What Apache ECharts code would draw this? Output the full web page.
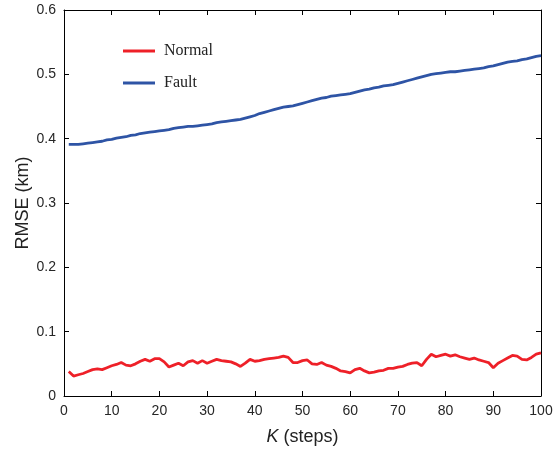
<!DOCTYPE html>
<html>
<head>
<meta charset="utf-8">
<script src="https://cdn.jsdelivr.net/npm/echarts@6/dist/echarts.min.js"></script>
<style>html,body{margin:0;padding:0;background:#fff}#c{width:553px;height:449px}</style>
</head>
<body>
<div id="c"></div>
<script>
const steps = Array.from({length: 100}, (_, i) => i + 1);
const normal = [0.038,0.031,0.033,0.035,0.038,0.041,0.042,0.041,0.044,0.047,
0.049,0.052,0.048,0.047,0.050,0.054,0.057,0.054,0.058,0.058,
0.053,0.045,0.048,0.051,0.047,0.053,0.055,0.051,0.055,0.051,
0.054,0.057,0.055,0.054,0.053,0.050,0.046,0.051,0.057,0.054,
0.055,0.057,0.058,0.059,0.060,0.062,0.060,0.052,0.052,0.055,
0.056,0.050,0.049,0.052,0.048,0.046,0.043,0.039,0.038,0.036,
0.041,0.043,0.039,0.036,0.037,0.039,0.040,0.043,0.043,0.045,
0.046,0.049,0.051,0.052,0.047,0.057,0.065,0.061,0.063,0.065,
0.062,0.064,0.061,0.059,0.057,0.059,0.056,0.054,0.052,0.044,
0.051,0.055,0.059,0.063,0.062,0.057,0.056,0.060,0.065,0.067];
const fault = [0.391,0.391,0.391,0.392,0.393,0.394,0.395,0.396,0.398,0.399,
0.401,0.402,0.403,0.405,0.406,0.408,0.409,0.410,0.411,0.412,
0.413,0.414,0.416,0.417,0.418,0.419,0.419,0.420,0.421,0.422,
0.423,0.425,0.426,0.427,0.428,0.429,0.430,0.432,0.434,0.436,
0.439,0.441,0.443,0.445,0.447,0.449,0.450,0.451,0.453,0.455,
0.457,0.459,0.461,0.463,0.464,0.466,0.467,0.468,0.469,0.470,
0.472,0.474,0.476,0.477,0.479,0.480,0.482,0.483,0.484,0.486,
0.488,0.490,0.492,0.494,0.496,0.498,0.500,0.501,0.502,0.503,
0.504,0.504,0.505,0.506,0.507,0.508,0.509,0.510,0.512,0.513,
0.515,0.517,0.519,0.520,0.521,0.523,0.524,0.526,0.528,0.529];
const seriesNames = ['Normal', 'Fault'];
const xName = 'K';
const xNameRest = ' (steps)';
const yName = 'RMSE (km)';

const chart = echarts.init(document.getElementById('c'), null, {renderer: 'canvas'});
const labelFont = {fontFamily: 'Liberation Sans, Arial, sans-serif', fontSize: 14, color: '#262626'};
const axisBase = {
  axisLine: {show: true, onZero: false, lineStyle: {color: '#000', width: 1}},
  axisTick: {show: true, inside: true, length: 5, lineStyle: {color: '#000'}},
  splitLine: {show: false}
};
chart.setOption({
  animation: false,
  backgroundColor: '#fff',
  grid: {left: 64, right: 12, top: 10, bottom: 53, containLabel: false, outerBoundsMode: 'none'},
  legend: {
    data: seriesNames,
    orient: 'vertical',
    left: 123, top: 43, padding: 0,
    icon: 'rect', itemWidth: 32, itemHeight: 3, itemGap: 16,
    textStyle: {fontFamily: 'Liberation Serif, Times New Roman, serif', fontSize: 16, color: '#222', padding: [0,0,0,4]}
  },
  xAxis: [
    Object.assign({}, axisBase, {
      type: 'value', min: 0, max: 100, interval: 10, position: 'bottom',
      axisLabel: Object.assign({margin: 8}, labelFont),
      name: '{i|' + xName + '}{n|' + xNameRest + '}',
      nameLocation: 'middle', nameGap: 32,
      nameTextStyle: {rich: {
        i: {fontFamily: 'Liberation Sans, Arial, sans-serif', fontSize: 18, fontStyle: 'italic', color: '#222'},
        n: {fontFamily: 'Liberation Sans, Arial, sans-serif', fontSize: 18, color: '#222'}
      }}
    }),
    Object.assign({}, axisBase, {
      type: 'value', min: 0, max: 100, interval: 10, position: 'top',
      axisLabel: {show: false}
    })
  ],
  yAxis: [
    Object.assign({}, axisBase, {
      type: 'value', min: 0, max: 0.6, interval: 0.1, position: 'left',
      axisLabel: Object.assign({margin: 8, formatter: v => (v === 0 ? '0' : v.toFixed(1))}, labelFont),
      name: yName, nameLocation: 'middle', nameGap: 32, nameRotate: 90, nameMoveOverlap: false,
      nameTextStyle: {fontFamily: 'Liberation Sans, Arial, sans-serif', fontSize: 18, color: '#222'}
    }),
    Object.assign({}, axisBase, {
      type: 'value', min: 0, max: 0.6, interval: 0.1, position: 'right',
      axisLabel: {show: false}
    })
  ],
  series: [
    {name: seriesNames[0], type: 'line', data: steps.map((k, i) => [k, normal[i]]),
     showSymbol: false, symbol: 'none', lineStyle: {color: '#ee2028', width: 2.8}, itemStyle: {color: '#ee2028'}},
    {name: seriesNames[1], type: 'line', data: steps.map((k, i) => [k, fault[i]]),
     showSymbol: false, symbol: 'none', lineStyle: {color: '#2e54a5', width: 2.8}, itemStyle: {color: '#2e54a5'}}
  ]
});
</script>
</body>
</html>
